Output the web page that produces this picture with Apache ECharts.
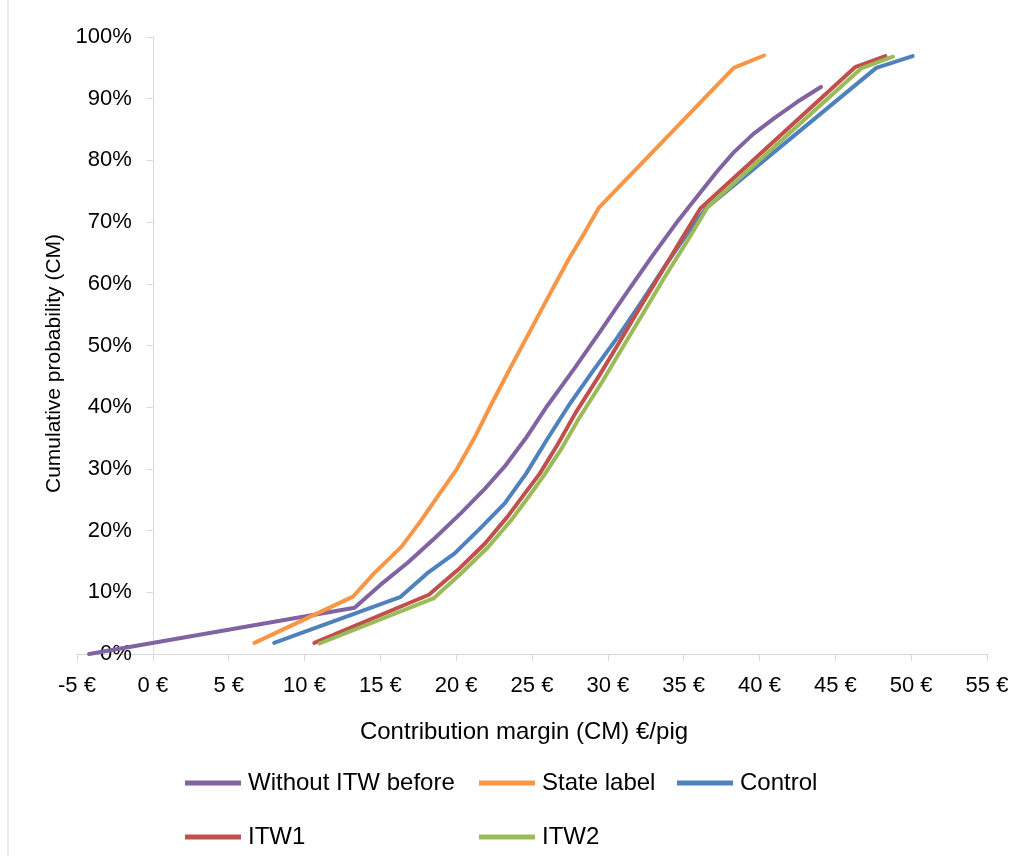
<!DOCTYPE html>
<html>
<head>
<meta charset="utf-8">
<script src="https://cdn.jsdelivr.net/npm/echarts@6/dist/echarts.min.js"></script>
<style>html,body{margin:0;padding:0;background:#fff;}#c{width:1028px;height:856px;}</style>
</head>
<body>
<div id="c"></div>
<script>
const seriesNames = ['Without ITW before', 'State label', 'Control', 'ITW1', 'ITW2'];
const seriesColors = ['#8064A2', '#F79646', '#4F81BD', '#C0504D', '#9BBB59'];
// [contribution margin €/pig, cumulative probability %]
const withoutITW = [[-4.2,0],[13.3,7.5],[15.0,11.2],[16.8,14.8],[18.6,18.8],[20.3,22.8],[21.9,26.8],[23.2,30.4],[24.6,35],[26.0,40.2],[27.8,46.3],[29.5,52.3],[31.2,58.4],[32.9,64.4],[34.5,69.8],[36.1,74.8],[37.2,78.2],[38.3,81.3],[39.6,84.3],[41.0,86.9],[42.5,89.5],[44.05,91.9]];
const stateLabel = [[6.7,1.8],[13.2,9.3],[14.6,13.1],[16.4,17.4],[17.7,21.7],[19.0,26.3],[20.0,29.8],[21.2,35],[22.3,40.4],[23.6,46.5],[24.8,52],[26.1,58],[27.4,63.9],[28.4,68],[29.4,72.3],[38.3,95],[40.3,97]];
const control = [[8.0,1.8],[16.3,9.2],[18.1,13.1],[19.9,16.3],[21.6,20.4],[23.2,24.4],[24.6,29.2],[26.0,34.8],[27.4,40.2],[29.0,45.8],[30.6,51.2],[32.2,57],[33.8,63],[35.2,68],[36.5,72.3],[47.7,95],[50.1,96.9]];
const itw1 = [[10.65,1.8],[18.2,9.6],[20.1,13.6],[21.9,17.9],[23.4,22.3],[24.7,26.6],[25.5,29.2],[26.7,34],[27.9,39.2],[29.4,45],[30.8,50.7],[32.2,56.5],[33.5,61.7],[34.8,67],[36.1,72.2],[46.3,95.1],[48.3,96.9]];
const itw2 = [[11.0,1.7],[18.5,9.0],[20.3,13.0],[22.1,17.3],[23.6,21.6],[24.9,25.9],[25.8,29.0],[27.0,33.5],[28.1,38.2],[29.6,44],[31.1,50.2],[32.4,55.5],[33.7,60.9],[35.2,66.8],[36.6,72.5],[46.7,94.9],[48.8,96.8]];
const seriesData = [withoutITW, stateLabel, control, itw1, itw2];
const xTitle = 'Contribution margin (CM) €/pig';
const yTitle = 'Cumulative probability (CM)';

const FONT = '"Liberation Sans", Arial, sans-serif';
const legendPos = [[185, 771], [479, 771], [677, 771], [185, 825], [479, 825]];
const GRID_LEFT = 77, GRID_RIGHT = 41;
const X_MIN = -5, X_MAX = 55;
const plotW = 1028 - GRID_LEFT - GRID_RIGHT;
const yAxisOffset = -plotW * (0 - X_MIN) / (X_MAX - X_MIN);

const chart = echarts.init(document.getElementById('c'), null, {renderer: 'canvas'});
chart.setOption({
  animation: false,
  backgroundColor: '#fff',
  textStyle: {fontFamily: FONT, color: '#000'},
  graphic: [{type: 'rect', shape: {x: 8, y: -5, width: 1040, height: 880}, style: {fill: 'none', stroke: '#D9D9D9', lineWidth: 1}, silent: true}],
  grid: {left: GRID_LEFT, right: GRID_RIGHT, top: 37, bottom: 202, containLabel: false, outerBoundsMode: 'none'},
  xAxis: {
    type: 'value', min: X_MIN, max: X_MAX, interval: 5,
    name: xTitle, nameLocation: 'middle', nameGap: 66,
    nameTextStyle: {fontSize: 24, color: '#000', fontFamily: FONT, padding: [0, 16, 0, 0]},
    axisLine: {show: true, onZero: false, lineStyle: {color: '#D9D9D9', width: 1}},
    axisTick: {show: true, length: 7, lineStyle: {color: '#D9D9D9'}},
    axisLabel: {fontSize: 22, color: '#000', margin: 21, formatter: v => v + ' €', fontFamily: FONT},
    splitLine: {show: false}
  },
  yAxis: {
    type: 'value', min: 0, max: 100, interval: 10, offset: yAxisOffset,
    name: yTitle, nameLocation: 'middle', nameGap: 81, nameRotate: 90,
    nameTextStyle: {fontSize: 21, color: '#000', fontFamily: FONT, padding: [0, 36, 0, 0]},
    axisLine: {show: true, onZero: false, lineStyle: {color: '#D9D9D9', width: 1}},
    axisTick: {show: true, length: 6, lineStyle: {color: '#D9D9D9'}},
    axisLabel: {fontSize: 22, color: '#000', margin: 21, formatter: v => v + '%', fontFamily: FONT},
    splitLine: {show: false}
  },
  legend: seriesNames.map((n, i) => ({
    data: [n], left: legendPos[i][0], top: legendPos[i][1], padding: 0,
    icon: 'rect', itemWidth: 56, itemHeight: 5, itemGap: 0,
    textStyle: {fontSize: 24, color: '#000', fontFamily: FONT, padding: [0, 0, 0, 2]}
  })),
  series: seriesNames.map((n, i) => ({
    name: n, type: 'line', data: seriesData[i], symbol: 'none', showSymbol: false,
    smooth: false, color: seriesColors[i],
    lineStyle: {width: 4, color: seriesColors[i], cap: 'round', join: 'round'},
    itemStyle: {color: seriesColors[i]}
  }))
});
</script>
</body>
</html>
